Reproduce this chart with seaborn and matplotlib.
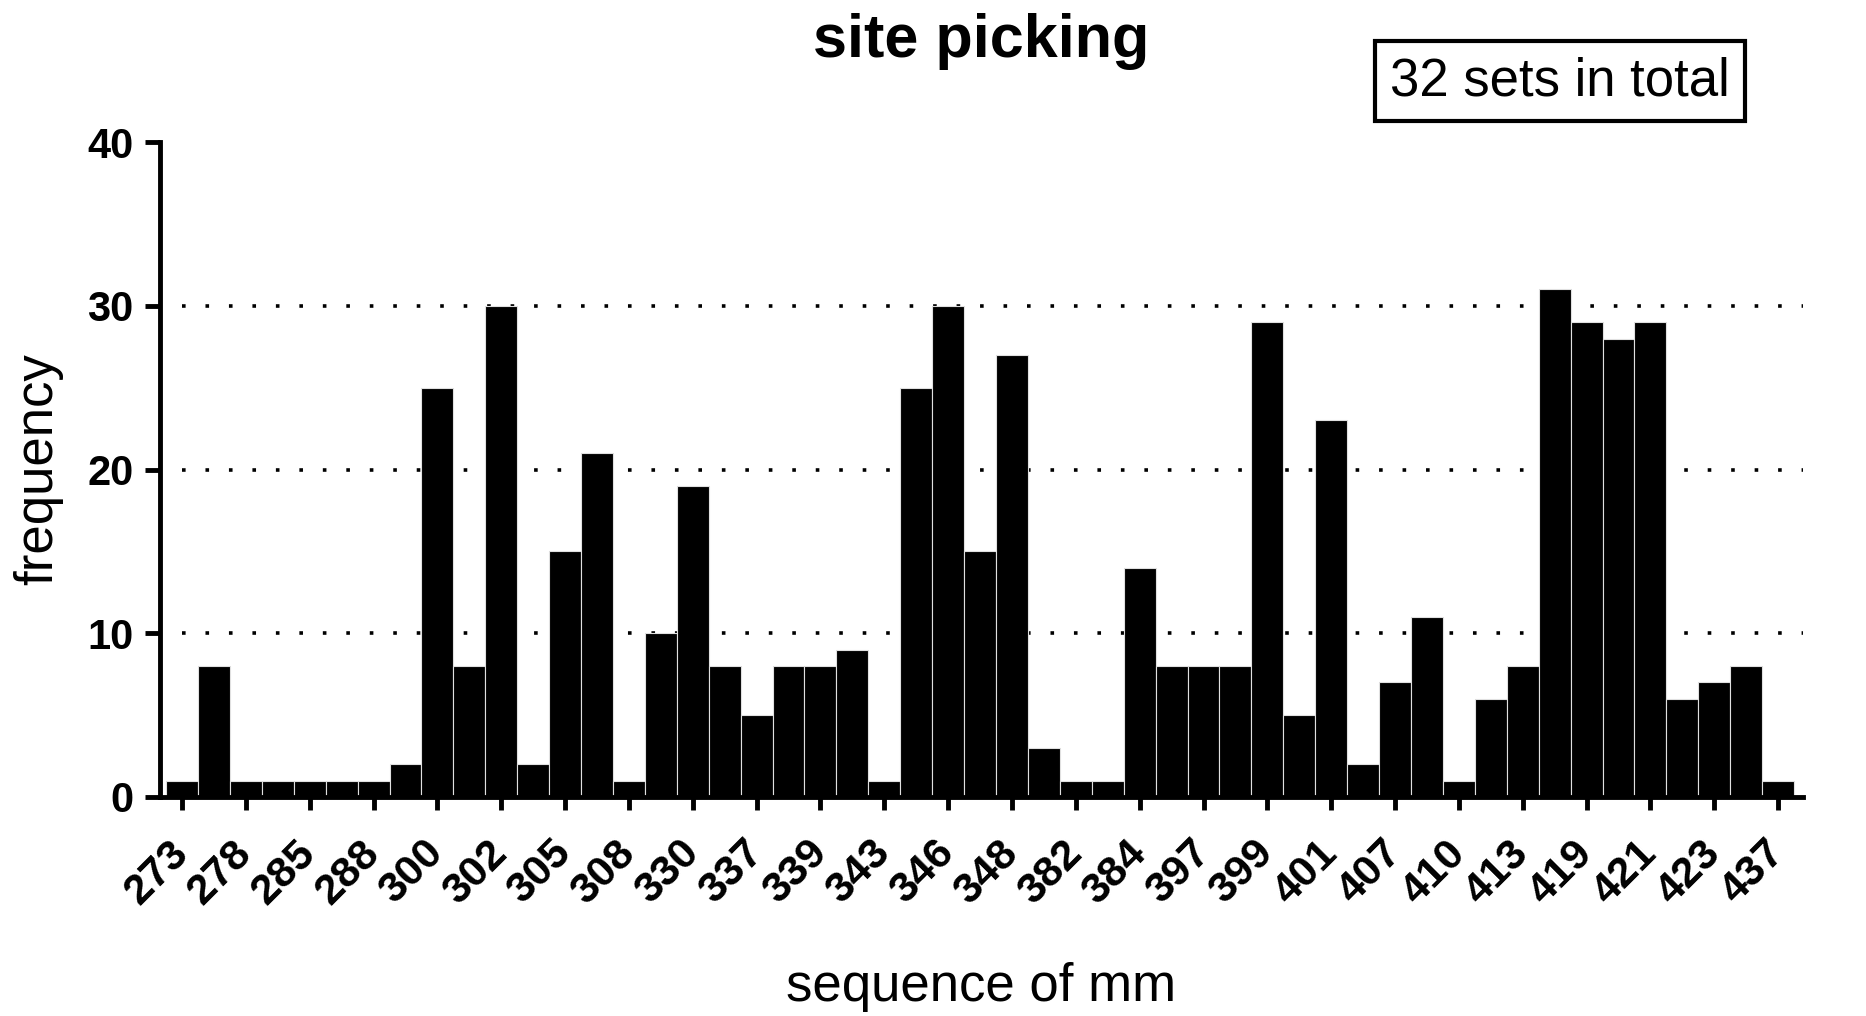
import matplotlib
matplotlib.use('Agg')
import matplotlib.pyplot as plt
import seaborn as sns
import pandas as pd

# values, one bar per site (only every other site is labelled)
tick_sites = ['273', '278', '285', '288', '300', '302', '305', '308', '330',
              '337', '339', '343', '346', '348', '382', '384', '397', '399',
              '401', '407', '410', '413', '419', '421', '423', '437']
frequency = [1, 8, 1, 1, 1, 1, 1, 2, 25, 8,
             30, 2, 15, 21, 1, 10, 19, 8, 5, 8,
             8, 9, 1, 25, 30, 15, 27, 3, 1, 1,
             14, 8, 8, 8, 29, 5, 23, 2, 7, 11,
             1, 6, 8, 31, 29, 28, 29, 6, 7, 8,
             1]
grid_levels = [10, 20, 30]
y_ticks = [0, 10, 20, 30, 40]

data = pd.DataFrame({'pos': range(len(frequency)), 'frequency': frequency})

sns.set_style('ticks')
plt.rcParams['font.family'] = ['Liberation Sans', 'DejaVu Sans']
plt.rcParams.update({'text.color': 'black', 'axes.labelcolor': 'black',
                     'xtick.color': 'black', 'ytick.color': 'black',
                     'axes.edgecolor': 'black'})

W, H = 1866, 1016
fig = plt.figure(figsize=(W / 100, H / 100), dpi=100)
ax = fig.add_axes([160 / W, 219 / H, 1643 / W, 655 / H])

ax.hlines(grid_levels, 0, len(frequency) - 0.2, colors='black',
          linestyles=(0, (1, 5.5)), linewidth=2.6, zorder=0)

sns.barplot(data=data, x='pos', y='frequency', color='black', width=1,
            edgecolor='#e0e0e0', linewidth=0.8, saturation=1, ax=ax, zorder=2)

ax.set_xlim(-0.69, len(frequency) - 0.22)
ax.set_ylim(0, 40)
ax.set_yticks(y_ticks)
ax.set_xticks(range(0, len(frequency), 2))
ax.set_xticklabels(tick_sites, rotation=45, ha='right', rotation_mode='anchor',
                   va='center')

for s in ['top', 'right']:
    ax.spines[s].set_visible(False)
for s in ['left', 'bottom']:
    ax.spines[s].set_linewidth(3.5)
    ax.spines[s].set_zorder(3)

ax.tick_params(axis='y', length=11, width=3.5, labelsize=30, pad=8)
ax.tick_params(axis='x', length=9, width=3.5, labelsize=31, pad=27)
for lab in ax.get_xticklabels() + ax.get_yticklabels():
    lab.set_fontweight('bold')

ax.set_xlabel('sequence of mm', fontsize=38)
ax.set_ylabel('frequency', fontsize=38)
ax.xaxis.set_label_coords(0.5, -0.252)
ax.yaxis.set_label_coords(-0.059, 0.5)

ax.set_title('site picking', fontsize=44, fontweight='bold', y=1.14, va='center')

fig.text(1560 / W, 1 - 81 / H, '32 sets in total', ha='center', va='center',
         fontsize=38,
         bbox=dict(boxstyle='square,pad=0.28', fc='white', ec='black', lw=3))

fig.savefig('out.png', dpi=100)
